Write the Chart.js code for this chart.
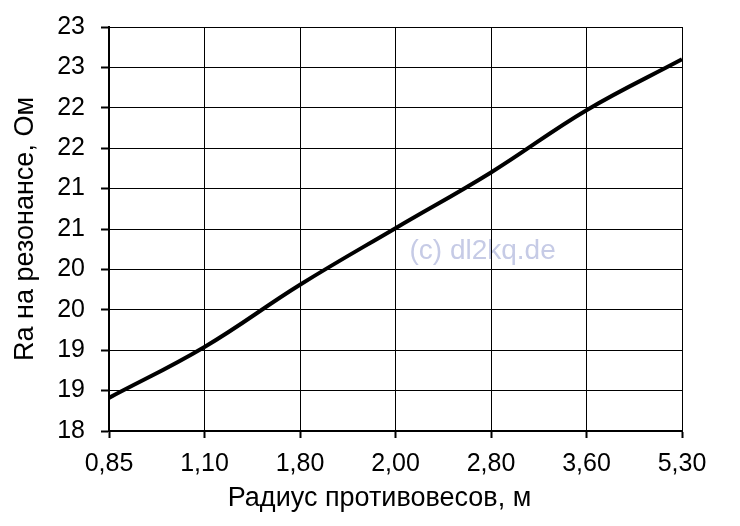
<!DOCTYPE html>
<html>
<head>
<meta charset="utf-8">
<script src="https://cdn.jsdelivr.net/npm/chart.js@4.4.1/dist/chart.umd.min.js"></script>
<style>
  html, body { margin: 0; padding: 0; background: #fff; }
  canvas { display: block; }
</style>
</head>
<body>
<canvas id="chart" width="740" height="526"></canvas>
<script>
// radius of counterpoise wires, m
const radius = ["0,85", "1,10", "1,80", "2,00", "2,80", "3,60", "5,30"];
// Ra at resonance, Ohm
const ra = [18.41, 19.04, 19.81, 20.51, 21.20, 21.97, 22.60];
// excel rounds the 0.5 steps to whole numbers
const yTickLabels = ["18", "19", "19", "20", "20", "21", "21", "22", "22", "23", "23"];

const FONT = "'Liberation Sans', Arial, sans-serif";

// watermark under the grid, x title drawn by hand (excel centres it a bit left)
const extras = {
  id: "extras",
  beforeDraw(chart) {
    const a = chart.chartArea;
    const ctx = chart.ctx;
    ctx.save();
    ctx.font = "28px " + FONT;
    ctx.fillStyle = "#c6cbe6";
    ctx.textAlign = "center";
    ctx.textBaseline = "alphabetic";
    ctx.fillText("(c) dl2kq.de", a.left + a.width * 0.652, a.top + a.height * 0.574);
    ctx.restore();
  },
  afterDraw(chart) {
    const a = chart.chartArea;
    const ctx = chart.ctx;
    ctx.save();
    ctx.font = "27px " + FONT;
    ctx.fillStyle = "#000";
    ctx.textAlign = "center";
    ctx.textBaseline = "middle";
    ctx.fillText("Радиус противовесов, м", (a.left + a.right) / 2 - 16, chart.height - 27);
    ctx.restore();
  }
};

new Chart(document.getElementById("chart"), {
  type: "line",
  data: {
    labels: radius,
    datasets: [{
      data: ra,
      borderColor: "#000",
      borderWidth: 4,
      pointRadius: 0,
      tension: 0.4,
      fill: false
    }]
  },
  options: {
    responsive: false,
    animation: false,
    layout: { padding: { left: 0, top: 27, right: 58, bottom: 0 } },
    plugins: { legend: { display: false }, tooltip: { enabled: false } },
    scales: {
      x: {
        offset: false,
        grid: { color: "#000", lineWidth: 1, tickLength: 7, tickWidth: 2, tickColor: "#000" },
        border: { color: "#000", width: 2 },
        ticks: { color: "#000", font: { family: FONT, size: 25 }, padding: 11, maxRotation: 0 },
        afterFit(scale) { scale.height = 95; }
      },
      y: {
        min: 18,
        max: 23,
        grid: { color: "#000", lineWidth: 1, tickLength: 8, tickWidth: 2, tickColor: "#000" },
        border: { color: "#000", width: 2 },
        ticks: {
          stepSize: 0.5,
          color: "#000",
          font: { family: FONT, size: 25 },
          padding: 16,
          callback: (v, i) => yTickLabels[i]
        },
        title: {
          display: true,
          text: "Ra на резонансе, Ом",
          color: "#000",
          font: { family: FONT, size: 27, lineHeight: 1 },
          padding: { top: 12, bottom: 0 }
        },
        afterFit(scale) {
          scale.width = 109;
          scale.paddingTop = 0;
          scale.paddingBottom = 0;
        }
      }
    }
  },
  plugins: [extras]
});
</script>
</body>
</html>
